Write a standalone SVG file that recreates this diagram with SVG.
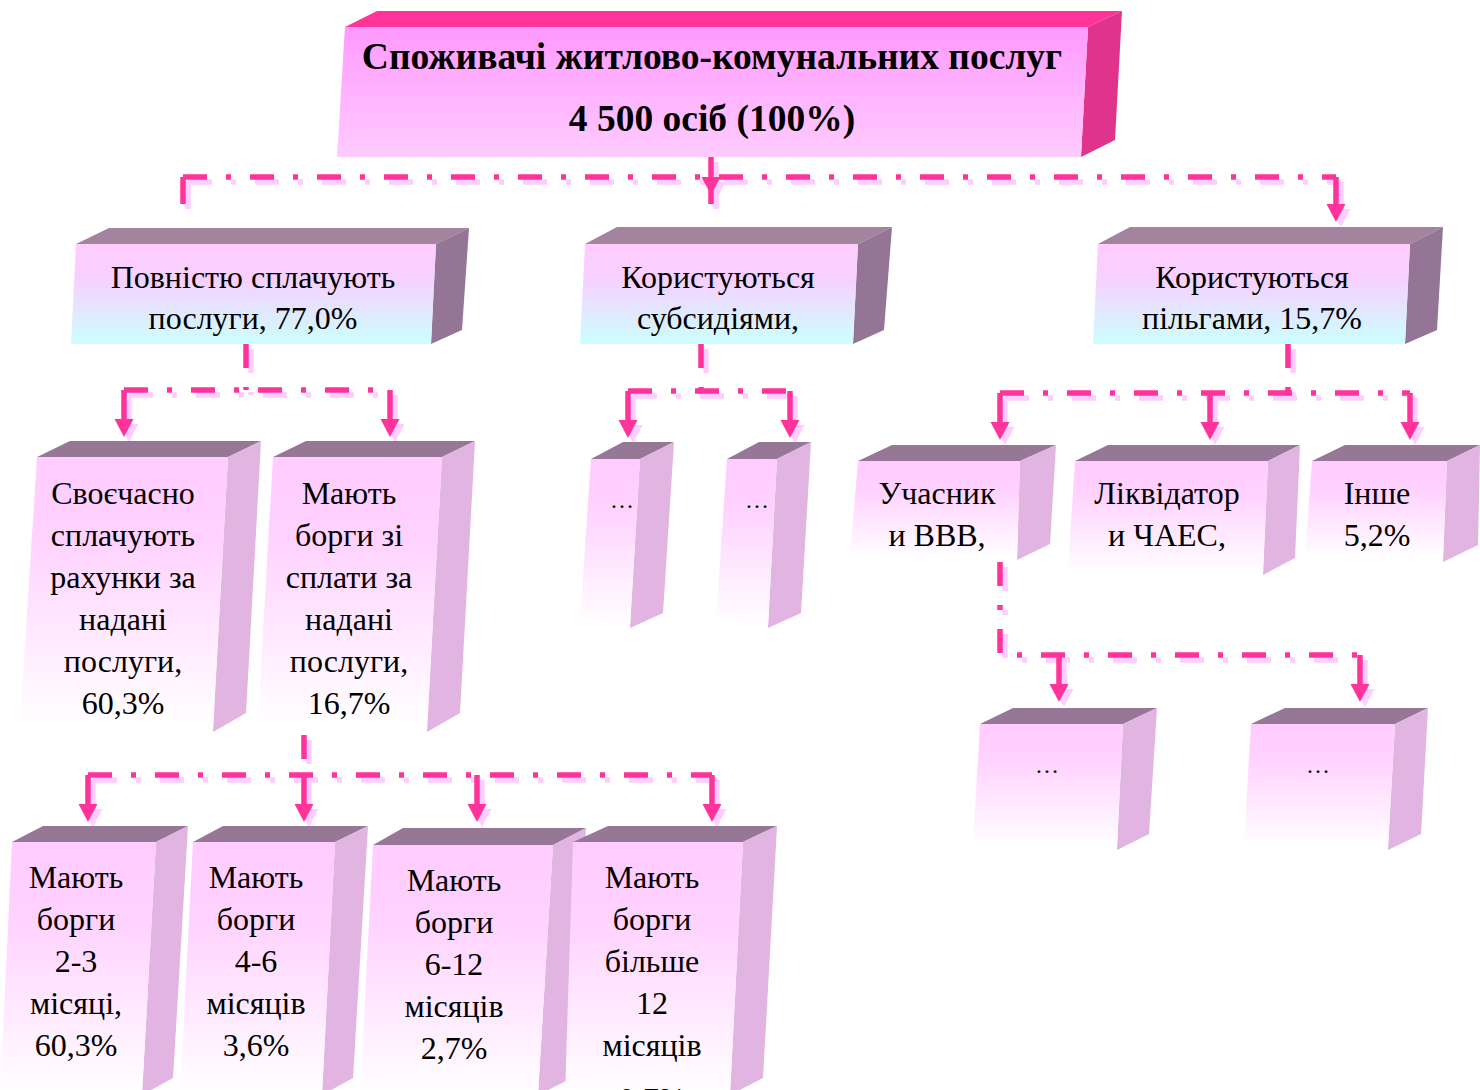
<svg xmlns="http://www.w3.org/2000/svg" xmlns:xlink="http://www.w3.org/1999/xlink" width="1480" height="1090" viewBox="0 0 1480 1090">
  <style>
    text { font-family: "Liberation Serif", "Times New Roman", serif; font-size: 32px; fill: #000; text-anchor: middle; }
    .title { font-size: 37.5px; font-weight: bold; }
    .dots { font-size: 24px; }
    .lid { fill: #967896; }
    .lid2 { fill: #a3849f; }
    .wall { fill: #e1b4e1; }
    .wall2 { fill: #957595; }
    .face { fill: url(#gFade); }
    .face2 { fill: url(#gCyan); }
    .dash { stroke-dasharray: 24 19 5 19; }
    .wire { fill: none; stroke-width: 5.5; }
    .wire.main { stroke: #ff3399; }
    .wire.shade { stroke: #ffccff; }
  </style>
  <defs>
    <linearGradient id="gRoot" x1="0" y1="0" x2="0" y2="1">
      <stop offset="0" stop-color="#ff99ff"/>
      <stop offset="1" stop-color="#ffccff"/>
    </linearGradient>
    <linearGradient id="gCyan" x1="0" y1="0" x2="0" y2="1">
      <stop offset="0" stop-color="#ffccff"/>
      <stop offset="0.35" stop-color="#f7d0ff"/>
      <stop offset="1" stop-color="#ccffff"/>
    </linearGradient>
    <linearGradient id="gFade" x1="0" y1="0" x2="0" y2="1">
      <stop offset="0" stop-color="#ffccff"/>
      <stop offset="0.3" stop-color="#ffd2ff"/>
      <stop offset="1" stop-color="#ffffff"/>
    </linearGradient>
    <marker id="ah" markerUnits="userSpaceOnUse" markerWidth="22" markerHeight="22" viewBox="0 -11 19 22" refX="0" refY="0" orient="auto">
      <path d="M0,-9.5 L18,0 L0,9.5 Z" fill="#ff3399"/>
    </marker>
    <marker id="ahs" markerUnits="userSpaceOnUse" markerWidth="22" markerHeight="22" viewBox="0 -11 19 22" refX="0" refY="0" orient="auto">
      <path d="M0,-9.5 L18,0 L0,9.5 Z" fill="#ffccff"/>
    </marker>
    <!-- dash-dot runs: stems from parents and horizontal bars -->
    <g id="runs">
      <path class="dash" d="M183,177 H1336"/>
      <path class="dash" d="M246,344 V390 M124,390 H390"/>
      <path class="dash" d="M701,344 V391 M628,391 H790"/>
      <path class="dash" d="M1288,344 V393 M1000,393 H1410"/>
      <path class="dash" d="M1000,562 V655 H1360"/>
      <path class="dash" d="M304,735 V775 M88,775 H712"/>
    </g>
    <!-- solid drops ending in arrowheads -->
    <g id="drops">
      <path d="M711,157 V177"/>
      <path d="M183,177 V204 M711,177 V204 M1336,177 V204"/>
      <path d="M124,390 V419"/>
      <path d="M390,390 V419"/>
      <path d="M628,391 V420"/>
      <path d="M790,391 V420"/>
      <path d="M1000,393 V422"/>
      <path d="M1210,393 V422"/>
      <path d="M1410,393 V422"/>
      <path d="M1059,655 V684"/>
      <path d="M1360,655 V684"/>
      <path d="M88,775 V804"/>
      <path d="M304,775 V804"/>
      <path d="M477,775 V804"/>
      <path d="M712,775 V804"/>
    </g>
  </defs>

  <g id="connectors">
    <g transform="translate(5,5)">
      <use href="#runs" class="wire shade"/>
      <use href="#drops" class="wire shade" style="marker-end:url(#ahs)"/>
    </g>
    <use href="#runs" class="wire main"/>
    <use href="#drops" class="wire main" style="marker-end:url(#ah)"/>
  </g>

  <!-- root -->
  <g id="n-root">
    <polygon points="377,11 1122,11 1088,27 345,27" fill="#ff3399"/>
    <polygon points="1088,27 1122,11 1115,140 1081,157" fill="#e0338c"/>
    <polygon points="345,27 1088,27 1081,157 337,157" fill="url(#gRoot)"/>
    <text class="title" x="712" y="69">Споживачі житлово-комунальних послуг</text>
    <text class="title" x="712" y="131">4 500 осіб (100%)</text>
  </g>

  <!-- second level -->
  <g id="n-full">
    <polygon class="lid2" points="109,228 469,228 436,244 76,244"/>
    <polygon class="wall2" points="436,244 469,228 462,330 431,344"/>
    <polygon class="face2" points="76,244 436,244 431,344 71,344"/>
    <text x="253" y="288">Повністю сплачують</text>
    <text x="253" y="329">послуги, 77,0%</text>
  </g>
  <g id="n-subsidy">
    <polygon class="lid2" points="617,227 892,227 858,244 585,244"/>
    <polygon class="wall2" points="858,244 892,227 884,330 853,344"/>
    <polygon class="face2" points="585,244 858,244 853,344 580,344"/>
    <text x="718" y="288">Користуються</text>
    <text x="718" y="329">субсидіями,</text>
  </g>
  <g id="n-benefit">
    <polygon class="lid2" points="1130,227 1443,227 1410,244 1098,244"/>
    <polygon class="wall2" points="1410,244 1443,227 1437,330 1405,344"/>
    <polygon class="face2" points="1098,244 1410,244 1405,344 1093,344"/>
    <text x="1252" y="288">Користуються</text>
    <text x="1252" y="329">пільгами, 15,7%</text>
  </g>

  <!-- third level: payers -->
  <g id="n-ontime">
    <polygon class="lid" points="70,441 261,441 228,457 37,457"/>
    <polygon class="wall" points="228,457 261,441 246,713 213,732"/>
    <polygon class="face" points="37,457 228,457 213,725 20,720"/>
    <text x="123" y="504">Своєчасно</text>
    <text x="123" y="546">сплачують</text>
    <text x="123" y="588">рахунки за</text>
    <text x="123" y="630">надані</text>
    <text x="123" y="672">послуги,</text>
    <text x="123" y="714">60,3%</text>
  </g>
  <g id="n-debt">
    <polygon class="lid" points="306,441 475,441 442,457 273,457"/>
    <polygon class="wall" points="442,457 475,441 460,713 427,732"/>
    <polygon class="face" points="273,457 442,457 427,725 258,720"/>
    <text x="349" y="504">Мають</text>
    <text x="349" y="546">борги зі</text>
    <text x="349" y="588">сплати за</text>
    <text x="349" y="630">надані</text>
    <text x="349" y="672">послуги,</text>
    <text x="349" y="714">16,7%</text>
  </g>

  <!-- third level: subsidy groups -->
  <g id="n-sub-a">
    <polygon class="lid" points="623,442 674,442 640,459 591,459"/>
    <polygon class="wall" points="640,459 674,442 663,613 630,628"/>
    <polygon class="face" points="591,459 640,459 630,625 580,620"/>
    <text class="dots" x="622" y="508">…</text>
  </g>
  <g id="n-sub-b">
    <polygon class="lid" points="759,442 811,442 777,459 727,459"/>
    <polygon class="wall" points="777,459 811,442 801,613 768,628"/>
    <polygon class="face" points="727,459 777,459 768,625 716,620"/>
    <text class="dots" x="757" y="508">…</text>
  </g>

  <!-- third level: benefit groups -->
  <g id="n-veteran">
    <polygon class="lid" points="892,445 1056,445 1020,461 858,461"/>
    <polygon class="wall" points="1020,461 1056,445 1050,544 1017,560"/>
    <polygon class="face" points="858,461 1020,461 1017,558 850,555"/>
    <text x="937" y="504">Учасник</text>
    <text x="937" y="546">и ВВВ,</text>
  </g>
  <g id="n-chernobyl">
    <polygon class="lid" points="1108,445 1300,445 1268,461 1075,461"/>
    <polygon class="wall" points="1268,461 1300,445 1295,558 1263,575"/>
    <polygon class="face" points="1075,461 1268,461 1263,572 1068,568"/>
    <text x="1167" y="504">Ліквідатор</text>
    <text x="1167" y="546">и ЧАЕС,</text>
  </g>
  <g id="n-other">
    <polygon class="lid" points="1345,445 1480,445 1447,461 1312,461"/>
    <polygon class="wall" points="1447,461 1480,445 1478,545 1443,562"/>
    <polygon class="face" points="1312,461 1447,461 1443,557 1305,555"/>
    <text x="1377" y="504">Інше</text>
    <text x="1377" y="546">5,2%</text>
  </g>

  <!-- fourth level: veteran subgroups -->
  <g id="n-vet-a">
    <polygon class="lid" points="1013,708 1157,708 1123,724 980,724"/>
    <polygon class="wall" points="1123,724 1157,708 1149,834 1117,850"/>
    <polygon class="face" points="980,724 1123,724 1117,845 973,843"/>
    <text class="dots" x="1047" y="773">…</text>
  </g>
  <g id="n-vet-b">
    <polygon class="lid" points="1285,708 1428,708 1395,724 1251,724"/>
    <polygon class="wall" points="1395,724 1428,708 1421,834 1388,850"/>
    <polygon class="face" points="1251,724 1395,724 1388,845 1244,843"/>
    <text class="dots" x="1318" y="773">…</text>
  </g>

  <!-- fourth level: debt duration -->
  <g id="n-debt-2-3">
    <polygon class="lid" points="43,826 188,826 156,842 12,842"/>
    <polygon class="wall" points="156,842 188,826 173,1078 142,1095"/>
    <polygon class="face" points="12,842 156,842 142,1095 0,1095"/>
    <text x="76" y="888">Мають</text>
    <text x="76" y="930">борги</text>
    <text x="76" y="972">2-3</text>
    <text x="76" y="1014">місяці,</text>
    <text x="76" y="1056">60,3%</text>
  </g>
  <g id="n-debt-4-6">
    <polygon class="lid" points="223,826 368,826 335,842 193,842"/>
    <polygon class="wall" points="335,842 368,826 353,1078 322,1095"/>
    <polygon class="face" points="193,842 335,842 322,1095 180,1095"/>
    <text x="256" y="888">Мають</text>
    <text x="256" y="930">борги</text>
    <text x="256" y="972">4-6</text>
    <text x="256" y="1014">місяців</text>
    <text x="256" y="1056">3,6%</text>
  </g>
  <g id="n-debt-6-12">
    <polygon class="lid" points="403,828 586,828 553,845 373,845"/>
    <polygon class="wall" points="553,845 586,828 572,1078 538,1095"/>
    <polygon class="face" points="373,845 553,845 538,1095 360,1095"/>
    <text x="454" y="891">Мають</text>
    <text x="454" y="933">борги</text>
    <text x="454" y="975">6-12</text>
    <text x="454" y="1017">місяців</text>
    <text x="454" y="1059">2,7%</text>
  </g>
  <g id="n-debt-12">
    <polygon class="lid" points="608,826 777,826 743,842 573,842"/>
    <polygon class="wall" points="743,842 777,826 763,1078 730,1095"/>
    <polygon class="face" points="573,842 743,842 730,1095 565,1095"/>
    <text x="652" y="888">Мають</text>
    <text x="652" y="930">борги</text>
    <text x="652" y="972">більше</text>
    <text x="652" y="1014">12</text>
    <text x="652" y="1056">місяців</text>
    <text x="652" y="1110">0,7%</text>
  </g>
</svg>
